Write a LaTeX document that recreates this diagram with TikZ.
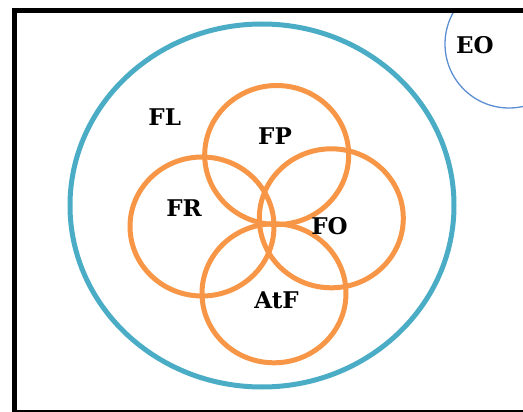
\documentclass[tikz,border=0pt]{standalone}
\usepackage{fontspec}
\setmainfont{DejaVu Serif}
\usetikzlibrary{shapes.geometric}
\definecolor{tealring}{RGB}{75,172,198}
\definecolor{orangering}{RGB}{247,150,70}
\definecolor{eoblue}{RGB}{91,142,210}
\tikzset{
  lbl/.style={font=\fontsize{23}{27}\selectfont\bfseries, inner sep=0pt, text=black},
  oring/.style={ellipse, draw=orangering, line width=5pt, minimum width=144pt, minimum height=139pt, inner sep=0pt, outer sep=0pt},
  tring/.style={ellipse, draw=tealring, line width=5pt, minimum width=384pt, minimum height=363pt, inner sep=0pt, outer sep=0pt},
  eoring/.style={ellipse, draw=eoblue, line width=1.3pt, minimum width=128pt, minimum height=128pt, inner sep=0pt, outer sep=0pt},
  frame/.style={draw=black, line width=5pt}
}
\begin{document}
\begin{tikzpicture}[x=1pt,y=-1pt]
\useasboundingbox (0,0) rectangle (523,412);
\clip (0,0) rectangle (523,412);
\begin{scope}
  \clip (14,11) rectangle (530,420);
  \node[eoring] (eo) at (509,44) {};
\end{scope}
\node[frame, rectangle, minimum width=530pt, minimum height=401.5pt, anchor=north west, inner sep=0pt, outer sep=0pt] (fr) at (14,11) {};
\node[tring] (fl) at (262,205.5) {};
\node[oring] (fp) at (276.7,155) {};
\node[oring] (frc) at (202,226.5) {};
\node[oring] (fo) at (331.3,218.3) {};
\node[oring] (atf) at (274,293.3) {};
\node[lbl] (tfl) at (164.7,116.7) {FL};
\node[lbl] (tfp) at (275,136.3) {FP};
\node[lbl] (tfr) at (184,208) {FR};
\node[lbl] (tfo) at (329.5,226) {FO};
\node[lbl] (tatf) at (276.5,300) {AtF};
\node[lbl] (teo) at (475,45) {EO};
\end{tikzpicture}
\end{document}
